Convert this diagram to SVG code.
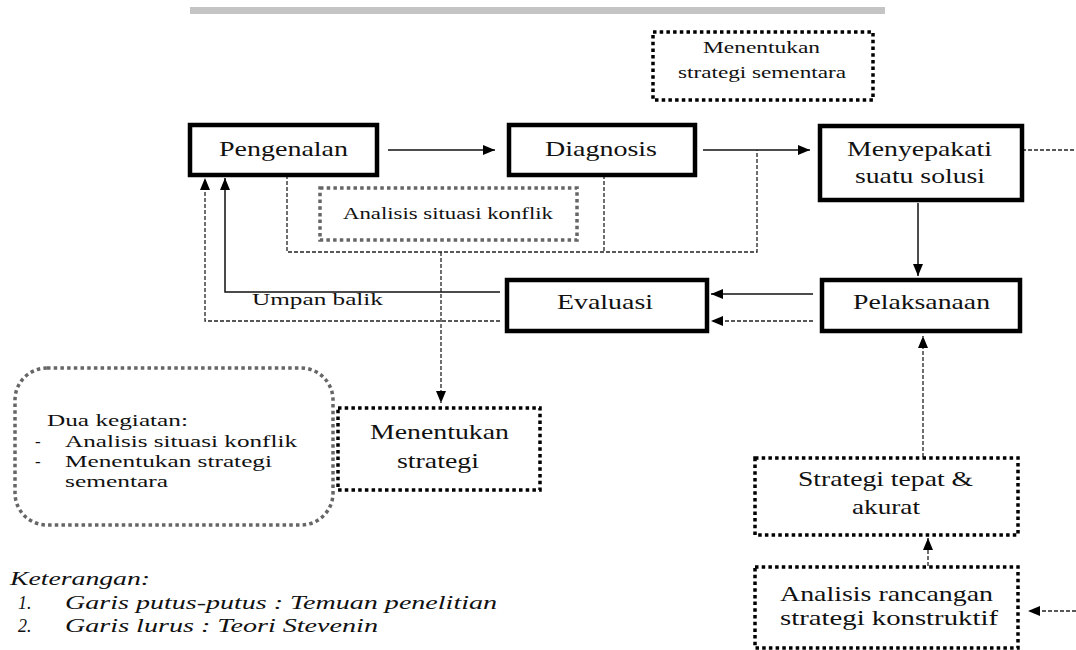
<svg xmlns="http://www.w3.org/2000/svg" width="1076" height="650" viewBox="0 0 1076 650">
<style>
.box{fill:#fff;stroke:#000;stroke-width:4.5}
.dot{fill:#fff;stroke:#000;stroke-width:3.5;stroke-dasharray:3.5 3.2}
.dotg{fill:#fff;stroke:#666;stroke-width:3.5;stroke-dasharray:3.5 3.2}
.ln{fill:none;stroke:#111;stroke-width:1.5}
.dash{fill:none;stroke:#222;stroke-width:1.3;stroke-dasharray:4 2}
.t{font-family:"Liberation Serif",serif;fill:#111}
.big{font-size:21px}
.sm{font-size:17px}
.it{font-family:"Liberation Serif",serif;font-style:italic;font-size:18px;fill:#111}
</style>
<defs>
<marker id="ah" markerUnits="userSpaceOnUse" markerWidth="12" markerHeight="10" refX="12" refY="5" orient="auto">
<path d="M0,0 L12,5 L0,10 Z" fill="#000"/>
</marker>
</defs>
<rect x="190" y="7" width="695" height="7" fill="#c4c4c4"/>
<g id="connectors">
<line class="ln" x1="388" y1="150" x2="495" y2="150" marker-end="url(#ah)"/>
<line class="ln" x1="703" y1="150" x2="810" y2="150" marker-end="url(#ah)"/>
<line class="dash" x1="1022" y1="150" x2="1076" y2="150"/>
<polyline class="dash" points="287,175 287,252 757,252 757,150"/>
<line class="dash" x1="604" y1="175" x2="604" y2="252"/>
<line class="dash" x1="441" y1="252" x2="441" y2="403" marker-end="url(#ah)"/>
<line class="ln" x1="918" y1="203" x2="918" y2="276" marker-end="url(#ah)"/>
<line class="ln" x1="813" y1="294" x2="711" y2="294" marker-end="url(#ah)"/>
<line class="dash" x1="813" y1="321" x2="711" y2="321" marker-end="url(#ah)"/>
<polyline class="ln" points="500,292 225,292 225,178" marker-end="url(#ah)"/>
<polyline class="dash" points="500,321 205,321 205,178" marker-end="url(#ah)"/>
<line class="dash" x1="923" y1="457" x2="923" y2="336" marker-end="url(#ah)"/>
<line class="dash" x1="928" y1="566" x2="928" y2="538" marker-end="url(#ah)"/>
<line class="dash" x1="1076" y1="611" x2="1028" y2="611" marker-end="url(#ah)"/>
<text class="t sm" x="252" y="305" textLength="131" lengthAdjust="spacingAndGlyphs">Umpan balik</text>
</g>
<g id="n-menentukan-sementara">
<rect class="dot" x="653" y="32" width="220" height="68"/>
<text class="t sm" x="703" y="53" textLength="117" lengthAdjust="spacingAndGlyphs">Menentukan</text>
<text class="t sm" x="678" y="78" textLength="168" lengthAdjust="spacingAndGlyphs">strategi sementara</text>
</g>
<g id="n-pengenalan">
<rect class="box" x="190" y="125" width="187" height="50"/>
<text class="t big" x="219" y="156" textLength="129" lengthAdjust="spacingAndGlyphs">Pengenalan</text>
</g>
<g id="n-diagnosis">
<rect class="box" x="509" y="125" width="186" height="50"/>
<text class="t big" x="545" y="156" textLength="112" lengthAdjust="spacingAndGlyphs">Diagnosis</text>
</g>
<g id="n-menyepakati">
<rect class="box" x="820" y="126" width="202" height="74"/>
<text class="t big" x="847" y="156" textLength="145" lengthAdjust="spacingAndGlyphs">Menyepakati</text>
<text class="t big" x="855" y="183" textLength="130" lengthAdjust="spacingAndGlyphs">suatu solusi</text>
</g>
<g id="n-analisis-situasi">
<rect class="dotg" x="320" y="188" width="257" height="52"/>
<text class="t sm" x="343" y="219" textLength="210" lengthAdjust="spacingAndGlyphs">Analisis situasi konflik</text>
</g>
<g id="n-evaluasi">
<rect class="box" x="507" y="280" width="200" height="51"/>
<text class="t big" x="557" y="309" textLength="96" lengthAdjust="spacingAndGlyphs">Evaluasi</text>
</g>
<g id="n-pelaksanaan">
<rect class="box" x="822" y="280" width="198" height="51"/>
<text class="t big" x="853" y="309" textLength="137" lengthAdjust="spacingAndGlyphs">Pelaksanaan</text>
</g>
<g id="n-dua-kegiatan">
<rect class="dotg" x="15" y="368" width="318" height="157" rx="32" ry="32"/>
<text class="t sm" x="47" y="426" textLength="141" lengthAdjust="spacingAndGlyphs">Dua kegiatan:</text>
<text class="t sm" x="35" y="447">-</text>
<text class="t sm" x="65" y="447" textLength="232" lengthAdjust="spacingAndGlyphs">Analisis situasi konflik</text>
<text class="t sm" x="35" y="467">-</text>
<text class="t sm" x="65" y="467" textLength="207" lengthAdjust="spacingAndGlyphs">Menentukan strategi</text>
<text class="t sm" x="65" y="487" textLength="103" lengthAdjust="spacingAndGlyphs">sementara</text>
</g>
<g id="n-menentukan-strategi">
<rect class="dot" x="338" y="408" width="202" height="82"/>
<text class="t big" x="370" y="439" textLength="139" lengthAdjust="spacingAndGlyphs">Menentukan</text>
<text class="t big" x="397" y="468" textLength="82" lengthAdjust="spacingAndGlyphs">strategi</text>
</g>
<g id="n-strategi-tepat">
<rect class="dot" x="755" y="458" width="263" height="77"/>
<text class="t big" x="798" y="486" textLength="175" lengthAdjust="spacingAndGlyphs">Strategi tepat &amp;</text>
<text class="t big" x="852" y="514" textLength="68" lengthAdjust="spacingAndGlyphs">akurat</text>
</g>
<g id="n-analisis-rancangan">
<rect class="dot" x="755" y="567" width="263" height="81"/>
<text class="t big" x="780" y="601" textLength="213" lengthAdjust="spacingAndGlyphs">Analisis rancangan</text>
<text class="t big" x="780" y="625" textLength="218" lengthAdjust="spacingAndGlyphs">strategi konstruktif</text>
</g>
<g id="legend">
<text class="it" x="10" y="585" textLength="140" lengthAdjust="spacingAndGlyphs">Keterangan:</text>
<text class="it" x="18" y="609">1.</text>
<text class="it" x="65" y="609" textLength="432" lengthAdjust="spacingAndGlyphs">Garis putus-putus : Temuan penelitian</text>
<text class="it" x="18" y="632">2.</text>
<text class="it" x="65" y="632" textLength="313" lengthAdjust="spacingAndGlyphs">Garis lurus : Teori Stevenin</text>
</g>
</svg>
